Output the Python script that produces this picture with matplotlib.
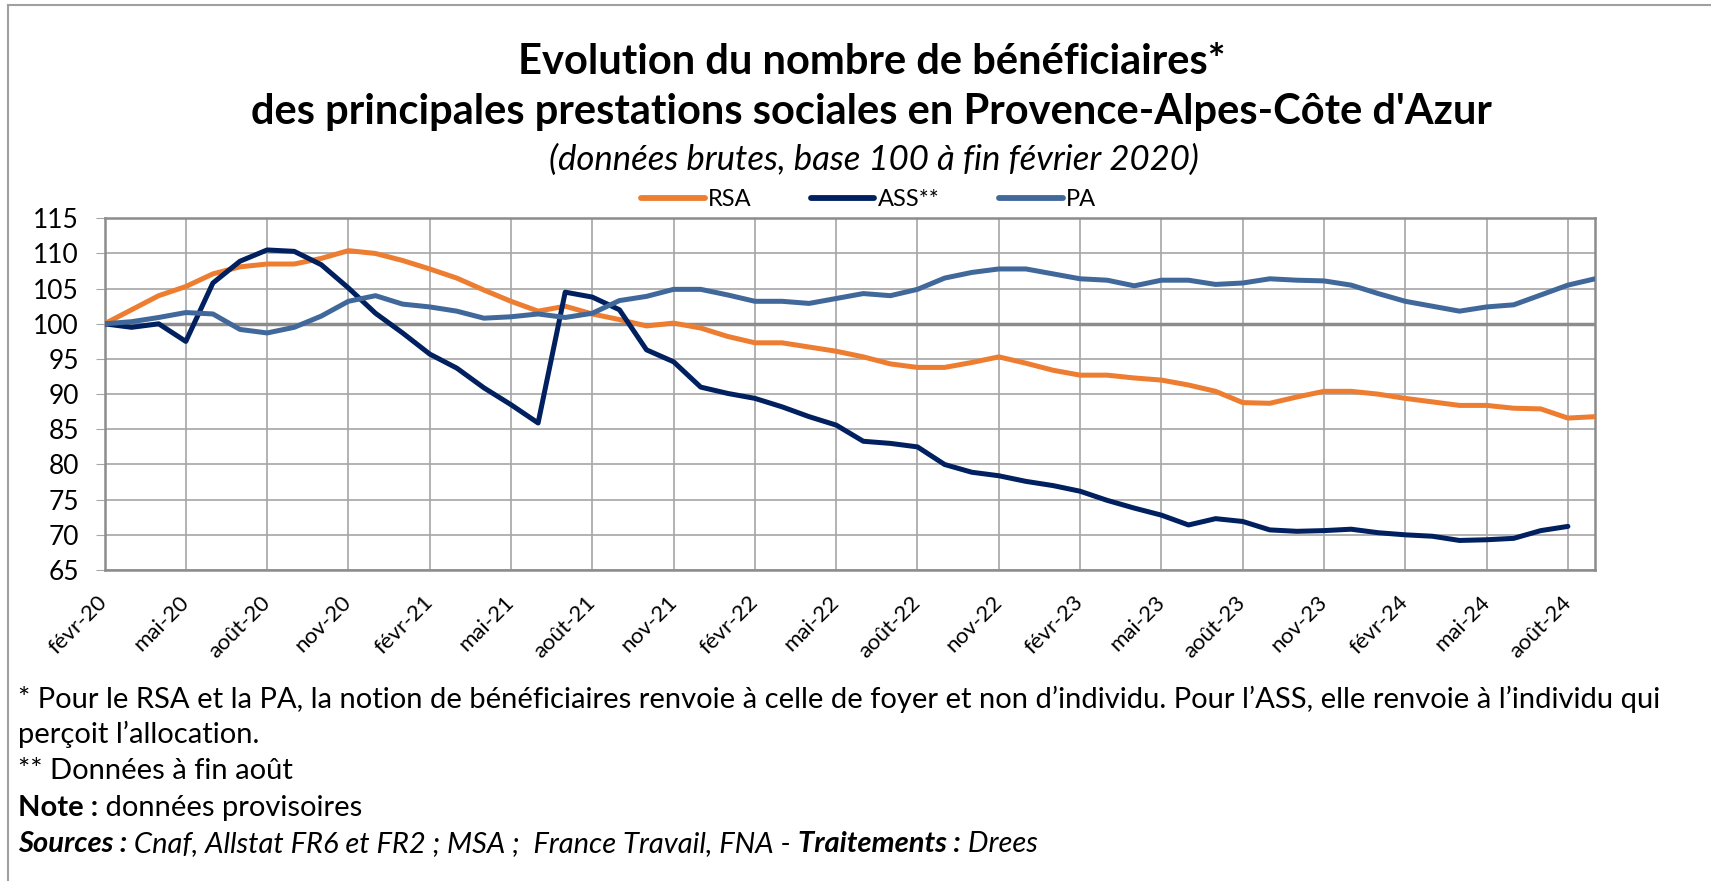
import numpy as np
import matplotlib
matplotlib.use("Agg")
import matplotlib.pyplot as plt

plt.rcParams['font.family'] = ['Lato', 'DejaVu Sans']

## data: monthly index, base 100 = end Feb 2020 (fevr-20 .. sept-24)
mois = ["janv", "févr", "mars", "avr", "mai", "juin", "juil", "août", "sept", "oct", "nov", "déc"]
n_months = 56
labels = []
for k in range(n_months):
    m = (1 + k) % 12
    y = 20 + (1 + k) // 12
    labels.append(f"{mois[m]}-{y}")

rsa = [100.0, 102.0, 104.0, 105.3, 107.1, 108.1, 108.5, 108.5, 109.3, 110.4,
       110.0, 109.0, 107.8, 106.5, 104.8, 103.2, 101.8, 102.5, 101.4, 100.6,
       99.7, 100.1, 99.4, 98.2, 97.3, 97.3, 96.7, 96.1, 95.3, 94.3,
       93.8, 93.8, 94.5, 95.3, 94.4, 93.4, 92.7, 92.7, 92.3, 92.0,
       91.3, 90.4, 88.8, 88.7, 89.6, 90.4, 90.4, 90.0, 89.4, 88.9,
       88.4, 88.4, 88.0, 87.9, 86.6, 86.8]
ass = [100.0, 99.5, 100.0, 97.5, 105.8, 108.9, 110.5, 110.3, 108.4, 105.1,
       101.5, 98.7, 95.7, 93.7, 90.9, 88.5, 85.9, 104.5, 103.8, 102.0,
       96.3, 94.6, 91.0, 90.1, 89.4, 88.2, 86.8, 85.6, 83.3, 83.0,
       82.5, 80.0, 78.9, 78.4, 77.6, 77.0, 76.2, 74.9, 73.8, 72.8,
       71.4, 72.3, 71.9, 70.7, 70.5, 70.6, 70.8, 70.3, 70.0, 69.8,
       69.2, 69.3, 69.5, 70.6, 71.2]
pa = [100.0, 100.3, 100.9, 101.6, 101.4, 99.2, 98.7, 99.5, 101.1, 103.2,
      104.0, 102.8, 102.4, 101.8, 100.8, 101.0, 101.4, 100.9, 101.5, 103.3,
      103.9, 104.9, 104.9, 104.1, 103.2, 103.2, 102.9, 103.6, 104.3, 104.0,
      104.9, 106.5, 107.3, 107.8, 107.8, 107.1, 106.4, 106.2, 105.4, 106.2,
      106.2, 105.6, 105.8, 106.4, 106.2, 106.1, 105.5, 104.3, 103.2, 102.5,
      101.8, 102.4, 102.7, 104.1, 105.5, 106.4]

c_rsa = "#ED7D31"
c_ass = "#002060"
c_pa = "#41689A"
grid_c = "#A6A6A6"

fig = plt.figure(figsize=(17.11, 8.81), dpi=100)
ax = fig.add_axes([104.5 / 1711, 1 - 570 / 881, (1595 - 104.5) / 1711, (570 - 218.3) / 881])

x = np.arange(n_months)
ax.plot(x, rsa, color=c_rsa, lw=3.6, label="RSA", zorder=3, solid_capstyle="round")
ax.plot(np.arange(len(ass)), ass, color=c_ass, lw=3.6, label="ASS**", zorder=3, solid_capstyle="round")
ax.plot(x, pa, color=c_pa, lw=3.6, label="PA", zorder=3, solid_capstyle="round")

ax.set_xlim(0, n_months - 1)
ax.set_ylim(65, 115)
ax.set_yticks(np.arange(65, 116, 5))
ticks = list(range(0, n_months, 3))
ax.set_xticks(ticks)
ax.set_xticklabels([labels[t] for t in ticks], rotation=45, ha="right", va="center",
                   rotation_mode="anchor", fontsize=16)
ax.tick_params(axis="x", length=0, pad=21)
ax.tick_params(axis="y", length=6.5, color=grid_c, labelsize=19, pad=12)
ax.grid(True, color=grid_c, lw=1.2, zorder=1)
ax.axhline(100, color="#8C8C8C", lw=2.5, zorder=2)
for s in ax.spines.values():
    s.set_color("#8C8C8C")
    s.set_linewidth(1.8)

## titles
fig.text(0.5095, 1 - 62 / 881, "Evolution du nombre de bénéficiaires*", ha="center", va="center",
         fontsize=30, fontweight="bold")
fig.text(0.5095, 1 - 112 / 881, "des principales prestations sociales en Provence-Alpes-Côte d'Azur",
         ha="center", va="center", fontsize=30, fontweight="bold")
fig.text(0.511, 1 - 160 / 881, "(données brutes, base 100 à fin février 2020)", ha="center", va="center",
         fontsize=25, style="italic")

leg = fig.legend(loc="center", bbox_to_anchor=(0.5076, 1 - 200 / 881), ncol=3, frameon=False,
                 fontsize=17, handlelength=2.7, columnspacing=2.5, handletextpad=0.15)
for h in leg.legend_handles:
    h.set_linewidth(4.2)

## outer frame (top and left edges)
fig.add_artist(plt.Line2D([8 / 1711, 1], [1 - 5 / 881, 1 - 5 / 881], color="#A0A0A0", lw=1.5))
fig.add_artist(plt.Line2D([8 / 1711, 8 / 1711], [0, 1 - 5 / 881], color="#A0A0A0", lw=1.5))

## footnotes, drawn piece by piece for mixed styles
renderer = fig.canvas.get_renderer()

def write_line(x0, ypix, pieces, size=21):
    xx = x0
    for txt, w, st in pieces:
        t = fig.text(xx, 1 - ypix / 881, txt, ha="left", va="center", fontsize=size,
                     fontweight=w, style=st)
        bb = t.get_window_extent(renderer=renderer)
        xx += bb.width / 1711

x0 = 18 / 1711
write_line(x0, 699, [("* Pour le RSA et la PA, la notion de bénéficiaires renvoie à celle de foyer et non d’individu. "
                      "Pour l’ASS, elle renvoie à l’individu qui", "normal", "normal")])
write_line(x0, 734, [("perçoit l’allocation.", "normal", "normal")])
write_line(x0, 771, [("** Données à fin août", "normal", "normal")])
write_line(x0, 808, [("Note :", "bold", "normal"), (" données provisoires", "normal", "normal")])
write_line(x0, 844, [("Sources :", "bold", "italic"),
                     (" Cnaf, Allstat FR6 et FR2 ; MSA ;  France Travail, FNA - ", "normal", "italic"),
                     ("Traitements :", "bold", "italic"), (" Drees", "normal", "italic")])

fig.savefig("out.png", dpi=100)
